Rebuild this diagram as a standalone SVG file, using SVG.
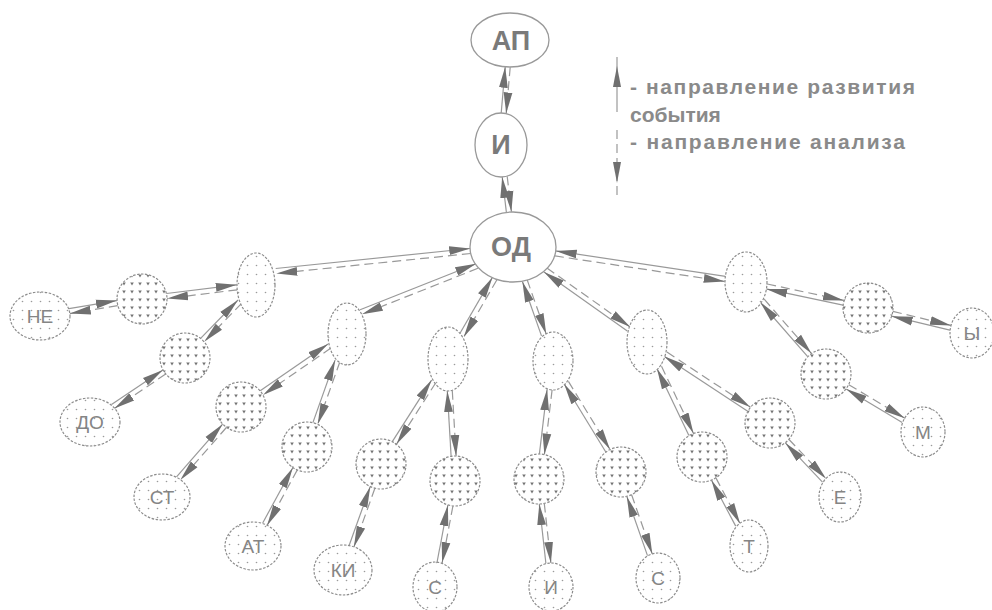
<svg xmlns="http://www.w3.org/2000/svg" width="992" height="610" viewBox="0 0 992 610">
<defs>
<pattern id="pl" width="9" height="9" patternUnits="userSpaceOnUse"><rect width="9" height="9" fill="#fff"/><circle cx="4.5" cy="4.5" r="0.8" fill="#9a9a9a"/></pattern>
<pattern id="pd" width="8" height="8" patternUnits="userSpaceOnUse"><rect width="8" height="8" fill="#fff"/><path d="M2.2,2.4 L5.8,2.4 L4,5.4 z" fill="#737373"/></pattern>
<marker id="ah" markerUnits="userSpaceOnUse" markerWidth="24" markerHeight="12" refX="21" refY="6" orient="auto"><path d="M0,1.6 L21,6 L0,10.4 z" fill="#707070"/></marker>
<style>
.c path{fill:none;stroke:#999;stroke-width:1.2}
.c .s{marker-end:url(#ah)}
.c .d{stroke-dasharray:9 5;marker-end:url(#ah)}
.top{fill:#fff;stroke:#999;stroke-width:1.3}
.lt{fill:url(#pl);stroke:#8c8c8c;stroke-width:1.2;stroke-dasharray:2.5 1.5}
.dk{fill:url(#pd);stroke:#8c8c8c;stroke-width:1.2;stroke-dasharray:2.5 1.5}
text{font-family:"Liberation Sans",Arial,sans-serif;text-anchor:middle}
.big{font-size:27px;font-weight:bold;fill:#7a7a7a}
.sm{font-size:19px;fill:#858585}
.lg{font-size:21px;font-weight:bold;fill:#8a8a8a;text-anchor:start}
</style>
</defs>
<rect width="992" height="610" fill="#fff"/>

<g id="connectors" class="c">
<path class="s" d="M501.2,113 L505.2,66.8"/><path class="d" d="M510.2,67.2 L506.2,113.4"/>
<path class="s" d="M506.4,212.4 L502.2,177"/><path class="d" d="M507.2,176.4 L511.4,211.8"/>
<path class="s" d="M275.7,268.5 L470.2,248.5"/><path class="d" d="M470.8,253.5 L276.3,273.5"/>
<path class="s" d="M360.1,309.7 L476.1,263.7"/><path class="d" d="M477.9,268.3 L361.9,314.3"/>
<path class="s" d="M459.4,334.3 L492.4,277.4"/><path class="d" d="M496.8,280 L463.8,336.9"/>
<path class="s" d="M541.5,335.9 L522.4,281.5"/><path class="d" d="M527.2,279.9 L546.3,334.3"/>
<path class="s" d="M627.3,331 L544,272"/><path class="d" d="M546.9,268 L630.2,327"/>
<path class="s" d="M725.5,276.4 L555.7,250.9"/><path class="d" d="M554.9,255.9 L724.7,281.4"/>
<path class="s" d="M166.5,293.5 L236.75,284.8"/><path class="d" d="M237.35,289.8 L167.1,298.5"/>
<path class="s" d="M69,308.6 L116.9,300.6"/><path class="d" d="M117.7,305.6 L69.8,313.6"/>
<path class="s" d="M200.6,338.4 L238,300"/><path class="d" d="M241.6,303.4 L204.2,341.8"/>
<path class="s" d="M111.5,404.4 L162.9,369.9"/><path class="d" d="M165.7,374.1 L114.3,408.6"/>
<path class="s" d="M260.2,390.7 L328.1,343.9"/><path class="d" d="M330.9,348.1 L263,394.9"/>
<path class="s" d="M176.5,476.8 L222.6,424.2"/><path class="d" d="M226.4,427.5 L180.3,480.1"/>
<path class="s" d="M312.9,422.6 L335.1,360.1"/><path class="d" d="M339.9,361.7 L317.7,424.2"/>
<path class="s" d="M262.7,523 L292.8,467.7"/><path class="d" d="M297.2,470.1 L267.1,525.4"/>
<path class="s" d="M392.3,441.6 L431.6,380.1"/><path class="d" d="M435.8,382.7 L396.5,444.2"/>
<path class="s" d="M349.2,545.3 L370.2,486.7"/><path class="d" d="M374.9,488.3 L353.9,546.9"/>
<path class="s" d="M451.1,456.1 L447.3,391"/><path class="d" d="M452.3,390.8 L456.1,455.9"/>
<path class="s" d="M437.1,562 L447.9,505.1"/><path class="d" d="M452.9,506.1 L442.1,563"/>
<path class="s" d="M539.4,453.9 L547.1,389.3"/><path class="d" d="M552.1,389.9 L544.4,454.5"/>
<path class="s" d="M545.9,563.5 L539.3,504.1"/><path class="d" d="M544.3,503.5 L550.9,562.9"/>
<path class="s" d="M605.8,452 L564.2,384"/><path class="d" d="M568.4,381.4 L610,449.4"/>
<path class="s" d="M647.5,555.6 L626.8,496.4"/><path class="d" d="M631.6,494.8 L652.3,554"/>
<path class="s" d="M688.9,435.6 L656.9,368.5"/><path class="d" d="M661.5,366.3 L693.5,433.4"/>
<path class="s" d="M735.7,526.1 L711.5,480.3"/><path class="d" d="M715.9,477.9 L740.1,523.7"/>
<path class="s" d="M747.7,411.3 L664.1,356.3"/><path class="d" d="M666.9,352.1 L750.5,407.2"/>
<path class="s" d="M822.5,482.1 L785.4,442.9"/><path class="d" d="M789,439.5 L826.1,478.7"/>
<path class="s" d="M807.7,356.7 L760.4,302.4"/><path class="d" d="M764.2,299.2 L811.5,353.5"/>
<path class="s" d="M902.2,422.5 L846.2,389"/><path class="d" d="M848.8,384.7 L904.8,418.2"/>
<path class="s" d="M843,305.2 L766.2,288.9"/><path class="d" d="M767.2,284 L844,300.4"/>
<path class="s" d="M949.9,330.2 L891.7,316.2"/><path class="d" d="M892.9,311.4 L951.1,325.4"/>
</g>

<g id="legend">
<path d="M617,57 L617,112" stroke="#999" stroke-width="1.2" fill="none"/>
<polygon points="617,66 621,87 613,87" fill="#707070"/>
<path d="M617,130 L617,197" stroke="#999" stroke-width="1.2" stroke-dasharray="9 5" fill="none"/>
<polygon points="617,183 621,162 613,162" fill="#707070"/>
<text class="lg" x="630" y="94" textLength="285" lengthAdjust="spacing">- направление развития</text>
<text class="lg" x="630" y="122">события</text>
<text class="lg" x="630" y="149" textLength="275" lengthAdjust="spacing">- направление анализа</text>
</g>

<g id="n-AP"><ellipse class="top" cx="510" cy="40" rx="39" ry="27"/><text class="big" x="511" y="50">АП</text></g>
<g id="n-I"><ellipse class="top" cx="501" cy="145" rx="26" ry="32"/><text class="big" x="501" y="154">И</text></g>
<g id="n-OD"><ellipse class="top" cx="513" cy="247" rx="43" ry="35"/><text class="big" x="511" y="256">ОД</text></g>

<g id="n-L1"><ellipse class="lt" cx="256" cy="285" rx="19" ry="32"/></g>
<g id="n-L2"><ellipse class="lt" cx="347" cy="334" rx="19" ry="31"/></g>
<g id="n-L3"><ellipse class="lt" cx="448" cy="359" rx="20" ry="32"/></g>
<g id="n-L4"><ellipse class="lt" cx="553" cy="361" rx="20" ry="29"/></g>
<g id="n-L5"><ellipse class="lt" cx="647" cy="342" rx="20" ry="32"/></g>
<g id="n-L6"><ellipse class="lt" cx="746" cy="282" rx="21" ry="30"/></g>

<g id="n-D1"><circle class="dk" cx="142" cy="299" r="25"/></g>
<g id="n-D2"><circle class="dk" cx="185" cy="358" r="25"/></g>
<g id="n-D3"><circle class="dk" cx="241" cy="407" r="25"/></g>
<g id="n-D4"><circle class="dk" cx="307" cy="447" r="25"/></g>
<g id="n-D5"><circle class="dk" cx="381" cy="464" r="25"/></g>
<g id="n-D6"><circle class="dk" cx="455" cy="481" r="25"/></g>
<g id="n-D7"><circle class="dk" cx="539" cy="479" r="25"/></g>
<g id="n-D8"><circle class="dk" cx="621" cy="472" r="25"/></g>
<g id="n-D9"><circle class="dk" cx="702" cy="457" r="25"/></g>
<g id="n-D10"><circle class="dk" cx="770" cy="423" r="25"/></g>
<g id="n-D11"><circle class="dk" cx="826" cy="374" r="25"/></g>
<g id="n-D12"><circle class="dk" cx="868" cy="308" r="25"/></g>

<g id="n-NE"><ellipse class="lt" cx="40" cy="316" rx="30" ry="24"/><text class="sm" x="40" y="323">НЕ</text></g>
<g id="n-DO"><ellipse class="lt" cx="90" cy="422" rx="30" ry="24"/><text class="sm" x="90" y="429">ДО</text></g>
<g id="n-ST"><ellipse class="lt" cx="162" cy="497" rx="28" ry="23"/><text class="sm" x="162" y="504">СТ</text></g>
<g id="n-AT"><ellipse class="lt" cx="253" cy="546" rx="28" ry="24"/><text class="sm" x="253" y="553">АТ</text></g>
<g id="n-KI"><ellipse class="lt" cx="343" cy="570" rx="29" ry="25"/><text class="sm" x="343" y="577">КИ</text></g>
<g id="n-S1"><ellipse class="lt" cx="435" cy="587" rx="22" ry="25"/><text class="sm" x="435" y="594">С</text></g>
<g id="n-I2"><ellipse class="lt" cx="551" cy="587" rx="22" ry="24"/><text class="sm" x="551" y="594">И</text></g>
<g id="n-S2"><ellipse class="lt" cx="658" cy="578" rx="22" ry="25"/><text class="sm" x="658" y="585">С</text></g>
<g id="n-T"><ellipse class="lt" cx="749" cy="546" rx="19" ry="26"/><text class="sm" x="749" y="553">Т</text></g>
<g id="n-E"><ellipse class="lt" cx="840" cy="497" rx="21" ry="25"/><text class="sm" x="840" y="504">Е</text></g>
<g id="n-M"><ellipse class="lt" cx="923" cy="432" rx="22" ry="25"/><text class="sm" x="923" y="439">М</text></g>
<g id="n-Y"><ellipse class="lt" cx="972" cy="333" rx="22" ry="25"/><text class="sm" x="972" y="340">Ы</text></g>
</svg>
